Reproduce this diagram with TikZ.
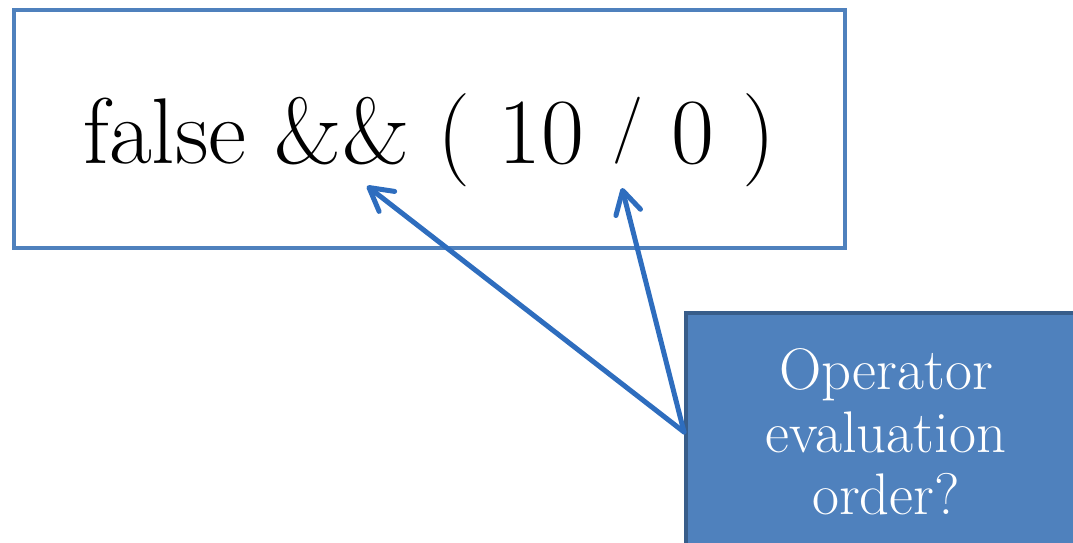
\documentclass[tikz,border=0pt]{standalone}
\usetikzlibrary{arrows.meta}
\definecolor{boxblue}{RGB}{79,129,189}
\definecolor{boxdark}{RGB}{56,93,138}
\definecolor{arrowblue}{RGB}{46,109,190}
\begin{document}
\begin{tikzpicture}[x=0.75pt,y=-0.75pt,
  exprbox/.style={draw=boxblue,line width=3pt,minimum width=623.25pt,minimum height=178.5pt,inner sep=0pt,text height=72pt,text depth=21pt,font=\fontsize{70}{78}\selectfont},
  notebox/.style={draw=boxdark,fill=boxblue,line width=3pt,minimum width=300pt,minimum height=178.5pt,inner sep=0pt,text=white,align=center,font=\fontsize{44}{47}\selectfont},
  pointer/.style={draw=arrowblue,line width=3.75pt,line cap=round,-{Straight Barb[length=17pt,width=19pt,round]}}]
\clip (0,0) rectangle (1073,542);
\node[exprbox] (expr) at (429.5,129) {false \&\& ( 10 \raisebox{0.17em}{\scalebox{0.72}{/}} 0 )};
\node[notebox] (note) at (886,432) {Operator\\evaluation\\order?};
\coordinate (tipA) at (367,186);
\coordinate (tipB) at (622,188);
\draw[pointer] (note.west) -- (tipA);
\draw[pointer] (note.west) -- (tipB);
\end{tikzpicture}
\end{document}
